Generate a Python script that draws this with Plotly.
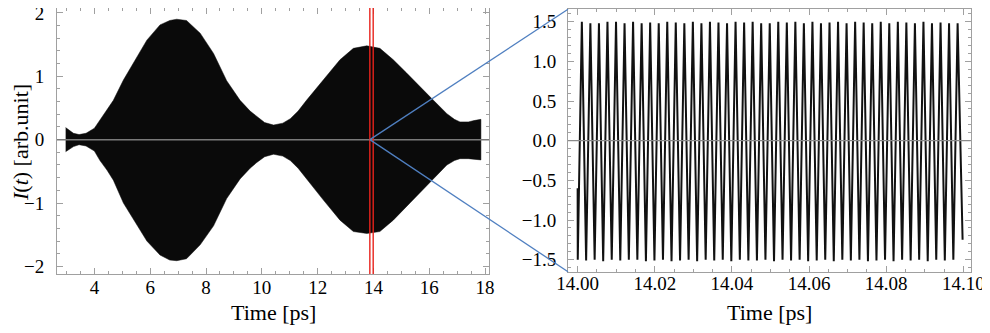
import plotly.graph_objects as go

PAGE_W, PAGE_H = 990, 333
OFF = 8  # page body margin in the browser
W, H = PAGE_W - OFF, PAGE_H - OFF   # figure size so the page does not overflow
FONT = "Liberation Serif"

# ---------------- data: left panel (envelope of the fast oscillation) ----------------
env_time = [2.97, 3.1, 3.25, 3.45, 3.7, 4.0, 4.2, 4.45, 4.68, 5.04, 5.4, 5.88, 6.35, 6.7,
            6.95, 7.3, 7.79, 8.27, 8.74, 9.22, 9.58, 9.82, 10.1, 10.42, 10.75, 11.02, 11.3,
            11.6, 12.2, 12.8, 13.28, 13.76, 14.23, 14.71, 15.19, 15.67, 16.15, 16.63, 16.9,
            17.1, 17.4, 17.6, 17.85]
env_upper = [0.19, 0.15, 0.10, 0.08, 0.10, 0.18, 0.31, 0.46, 0.62, 0.94, 1.22, 1.57, 1.81, 1.88,
             1.90, 1.88, 1.68, 1.36, 0.93, 0.62, 0.45, 0.36, 0.27, 0.23, 0.26, 0.33, 0.45,
             0.62, 0.94, 1.26, 1.44, 1.48, 1.44, 1.26, 1.05, 0.83, 0.62, 0.41, 0.32,
             0.28, 0.28, 0.30, 0.32]
env_lower = [-0.19, -0.16, -0.11, -0.08, -0.10, -0.18, -0.33, -0.48, -0.64, -1.00, -1.26, -1.60, -1.82, -1.90,
             -1.91, -1.88, -1.66, -1.36, -0.93, -0.62, -0.45, -0.36, -0.27, -0.23, -0.26, -0.33, -0.45,
             -0.62, -0.95, -1.27, -1.45, -1.48, -1.45, -1.27, -1.06, -0.84, -0.62, -0.40, -0.33,
             -0.30, -0.30, -0.31, -0.32]

marker_times = [13.87, 13.99]   # red marker lines (zoom window)

# ---------------- data: right panel (turning points of the zoomed signal) ----------------
start_time = [14.00000, 14.00003]
start_value = [-0.60, -1.50]
peak_time = [14.00109, 14.00330, 14.00552, 14.00773, 14.00995, 14.01216, 14.01437, 14.01659,
             14.01880, 14.02102, 14.02323, 14.02544, 14.02766, 14.02987, 14.03209, 14.03430,
             14.03651, 14.03873, 14.04094, 14.04316, 14.04537, 14.04758, 14.04980, 14.05201,
             14.05423, 14.05644, 14.05865, 14.06087, 14.06308, 14.06530, 14.06751, 14.06972,
             14.07194, 14.07415, 14.07637, 14.07858, 14.08079, 14.08301, 14.08522, 14.08744,
             14.08965, 14.09186, 14.09408, 14.09629, 14.09851]
peak_value = [1.50, 1.48, 1.48, 1.50, 1.50, 1.48, 1.50, 1.48, 1.49, 1.48, 1.50, 1.49, 1.48, 1.50,
              1.48, 1.50, 1.49, 1.48, 1.50, 1.49, 1.50, 1.48, 1.48, 1.50, 1.49, 1.50, 1.48, 1.50,
              1.48, 1.49, 1.50, 1.48, 1.50, 1.49, 1.48, 1.50, 1.48, 1.50, 1.49, 1.48, 1.50, 1.48,
              1.49, 1.48, 1.48]
trough_time = [14.00220, 14.00441, 14.00662, 14.00884, 14.01105, 14.01327, 14.01548, 14.01770,
               14.01991, 14.02212, 14.02434, 14.02655, 14.02877, 14.03098, 14.03319, 14.03541,
               14.03762, 14.03984, 14.04205, 14.04426, 14.04648, 14.04869, 14.05091, 14.05312,
               14.05533, 14.05755, 14.05976, 14.06198, 14.06419, 14.06640, 14.06862, 14.07083,
               14.07305, 14.07526, 14.07747, 14.07969, 14.08190, 14.08412, 14.08633, 14.08854,
               14.09076, 14.09297, 14.09519, 14.09740]
trough_value = [-1.51, -1.50, -1.52, -1.50, -1.51, -1.50, -1.50, -1.52, -1.51, -1.50, -1.52,
                -1.51, -1.50, -1.52, -1.50, -1.51, -1.50, -1.52, -1.50, -1.51, -1.51, -1.50,
                -1.52, -1.50, -1.51, -1.50, -1.52, -1.51, -1.50, -1.52, -1.50, -1.51, -1.50,
                -1.52, -1.51, -1.50, -1.52, -1.50, -1.51, -1.50, -1.52, -1.50, -1.51, -1.50]
end_time = [14.09980]
end_value = [-1.25]

left_xticks = [4, 6, 8, 10, 12, 14, 16, 18]
left_yticks = [-2, -1, 0, 1, 2]
right_xticks = [14.00, 14.02, 14.04, 14.06, 14.08, 14.10]
right_yticks = [-1.5, -1.0, -0.5, 0.0, 0.5, 1.0, 1.5]

# ---------------- build series ----------------
zoom_t = list(start_time)
zoom_v = list(start_value)
for i in range(len(peak_time)):
    zoom_t.append(peak_time[i]); zoom_v.append(peak_value[i])
    if i < len(trough_time):
        zoom_t.append(trough_time[i]); zoom_v.append(trough_value[i])
zoom_t += end_time
zoom_v += end_value


# ---------------- layout geometry (page pixels -> paper fractions) ----------------
def px_x(p):
    return (p - OFF) / W


def px_y(p):
    return min(1.0, 1 - (p - OFF) / H)


L_dom_x = [px_x(57), px_x(489)]
L_dom_y = [px_y(274), px_y(8)]
R_dom_x = [px_x(568), px_x(970.7)]
R_dom_y = [px_y(271.7), px_y(9.3)]
L_rx = [2.66, 18.14]
L_ry = [-2.12, 2.077]
R_rx = [13.9975, 14.1019]
R_ry = [-1.652, 1.657]

FRAME = "#a0a0a0"
tickfont = dict(family=FONT, size=19, color="black")


def axis(dom, rng, tickvals, minor_dtick, fmt=None, standoff=6):
    d = dict(domain=dom, range=rng, showline=True, linecolor=FRAME, linewidth=1,
             mirror="ticks", ticks="inside", ticklen=6, tickwidth=1, tickcolor=FRAME,
             tickvals=tickvals, showgrid=False, zeroline=False, tickfont=tickfont,
             ticklabelstandoff=standoff, automargin=False, ticklabeloverflow="allow",
             minor=dict(ticks="inside", dtick=minor_dtick, tick0=0, ticklen=3,
                        tickcolor=FRAME, tickwidth=1, showgrid=False))
    if fmt:
        d["tickformat"] = fmt
    return d


fig = go.Figure()

fig.add_trace(go.Scatter(
    x=env_time + env_time[::-1], y=env_upper + env_lower[::-1],
    fill="toself", fillcolor="#0a0a0a", mode="lines",
    line=dict(color="#0a0a0a", width=0.5), xaxis="x", yaxis="y",
    hoverinfo="skip", showlegend=False))

fig.add_trace(go.Scatter(
    x=zoom_t, y=zoom_v, mode="lines", line=dict(color="#111111", width=2),
    xaxis="x2", yaxis="y2", showlegend=False))

fig.update_layout(
    template="none",
    width=W, height=H, margin=dict(l=0, r=0, t=0, b=0, autoexpand=False),
    paper_bgcolor="white", plot_bgcolor="white",
    xaxis=axis(L_dom_x, L_rx, left_xticks, 0.5, standoff=-4),
    yaxis=axis(L_dom_y, L_ry, left_yticks, 0.2, standoff=8),
    xaxis2=dict(axis(R_dom_x, R_rx, right_xticks, 0.005, ".2f", standoff=-6), anchor="y2"),
    yaxis2=dict(axis(R_dom_y, R_ry, right_yticks, 0.1, ".1f", standoff=7), anchor="x2"),
)
fig.layout.xaxis.anchor = "y"
fig.layout.yaxis.anchor = "x"

shapes = []
# zero lines
shapes.append(dict(type="line", xref="x domain", yref="y", x0=0, x1=1, y0=0, y1=0,
                   line=dict(color="#7a7a7a", width=1.5), layer="above"))
shapes.append(dict(type="line", xref="x2 domain", yref="y2", x0=0, x1=1, y0=0, y1=0,
                   line=dict(color="#8a8a8a", width=1.2), layer="above"))
# red markers
for t in marker_times:
    shapes.append(dict(type="line", xref="x", yref="y domain", x0=t, x1=t, y0=0, y1=1,
                       line=dict(color="#e8231c", width=1.4), layer="above"))


# blue connector lines from left-panel point to right-panel corners
def to_paper(v, dom, rng):
    return dom[0] + (v - rng[0]) / (rng[1] - rng[0]) * (dom[1] - dom[0])


ox = to_paper(marker_times[0], L_dom_x, L_rx)
oy = to_paper(0, L_dom_y, L_ry)
for cy in (R_dom_y[1], R_dom_y[0]):
    shapes.append(dict(type="line", xref="paper", yref="paper", x0=ox, y0=oy,
                       x1=R_dom_x[0], y1=cy, line=dict(color="#4f7fc0", width=1.3),
                       layer="above"))
fig.update_layout(shapes=shapes)

title_font = dict(family=FONT, size=22, color="black")
fig.add_annotation(text="Time [ps]", xref="paper", yref="paper",
                   x=(L_dom_x[0] + L_dom_x[1]) / 2, y=px_y(312),
                   showarrow=False, font=title_font, xanchor="center", yanchor="middle")
fig.add_annotation(text="Time [ps]", xref="paper", yref="paper",
                   x=(R_dom_x[0] + R_dom_x[1]) / 2, y=px_y(312),
                   showarrow=False, font=title_font, xanchor="center", yanchor="middle")
fig.add_annotation(text="<i>I</i>(<i>t</i>) [arb.unit]", xref="paper", yref="paper",
                   x=px_x(20), y=px_y(143), textangle=-90,
                   showarrow=False, font=title_font, xanchor="center", yanchor="middle")

fig.write_html("out.html")
